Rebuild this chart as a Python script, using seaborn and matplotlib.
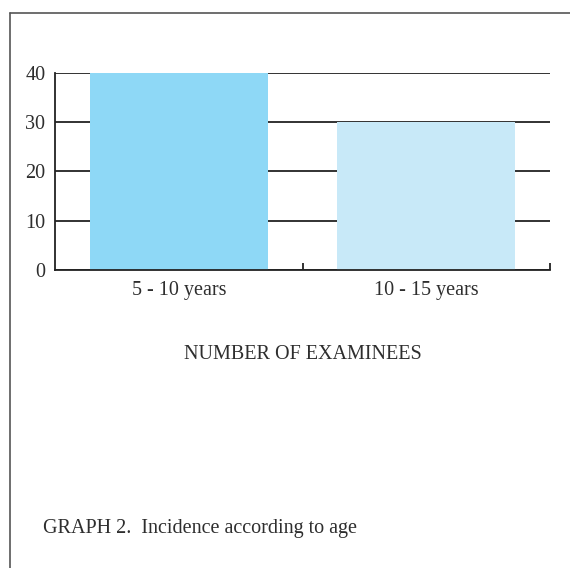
import pandas as pd
import matplotlib.pyplot as plt
import seaborn as sns
from matplotlib.lines import Line2D
from matplotlib.ticker import FixedLocator

# data
age_groups = ['5 - 10 years', '10 - 15 years']
examinees = [40, 30]
bar_colors = ['#8ed8f6', '#c8e9f8']

df = pd.DataFrame({'age': age_groups, 'count': examinees})

sns.set_style('white')
plt.rcParams['font.family'] = ['Liberation Serif', 'DejaVu Serif']

fig = plt.figure(figsize=(5.7, 5.68), dpi=100)
ax = fig.add_axes([55 / 570, 1 - 270 / 568, 495 / 570, 197 / 568])

sns.barplot(data=df, x='age', y='count', hue='age', palette=bar_colors,
            width=0.72, saturation=1, legend=False, ax=ax, zorder=2,
            edgecolor='none', linewidth=0)

ax.set_ylim(0, 40)
ax.set_xlim(-0.5, 1.5)
ax.set_yticks([0, 10, 20, 30, 40])
ax.yaxis.grid(True, color='#222222', linewidth=1.3, zorder=0)
ax.set_axisbelow(True)
ax.tick_params(axis='y', length=0, labelsize=14.5, colors='#2e2e2e', pad=7)
ax.tick_params(axis='x', length=0, labelsize=14.5, colors='#2e2e2e', pad=8)
ax.xaxis.set_minor_locator(FixedLocator([0.5, 1.5]))
ax.tick_params(axis='x', which='minor', bottom=True, direction='in',
               length=5, width=1.3, color='#222222')

for side in ['top', 'right']:
    ax.spines[side].set_visible(False)
for side in ['left', 'bottom']:
    ax.spines[side].set_color('#222222')
    ax.spines[side].set_linewidth(1.3)

ax.set_xlabel('NUMBER OF EXAMINEES', fontsize=14.5, color='#2e2e2e', labelpad=32)
ax.set_ylabel('')

# outer frame (top and left)
fig.add_artist(Line2D([10 / 570, 1], [1 - 13 / 568, 1 - 13 / 568],
                      transform=fig.transFigure, color='#555555', linewidth=1.2))
fig.add_artist(Line2D([10 / 570, 10 / 570], [0, 1 - 13 / 568],
                      transform=fig.transFigure, color='#555555', linewidth=1.2))

fig.text(43 / 570, 1 - 529 / 568, 'GRAPH 2.  Incidence according to age',
         fontsize=14.5, color='#2e2e2e', va='center', ha='left')

fig.savefig('out.png', dpi=100)
